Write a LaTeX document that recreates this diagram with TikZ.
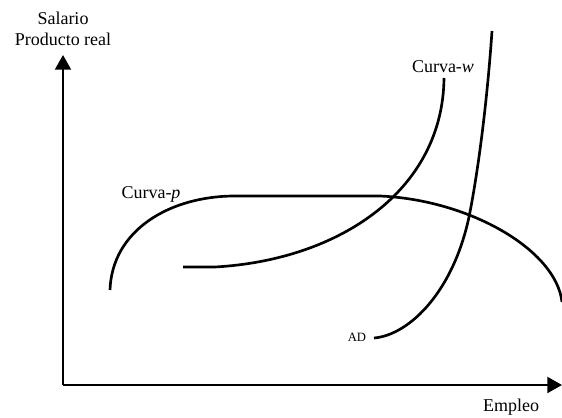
\documentclass[tikz,border=0pt]{standalone}
\usepackage{fontspec}
\setmainfont{Liberation Serif}
\usetikzlibrary{arrows.meta,positioning}

\begin{document}
\begin{tikzpicture}[
    x=0.75pt, y=-0.75pt,
    axis/.style={line width=1.5pt,-{Triangle[length=11pt,width=12pt]}},
    curve/.style={line width=2pt},
    label/.style={font=\fontsize{13.5}{15}\selectfont, align=center, inner sep=0pt}
]
\useasboundingbox (0,0) rectangle (562,418);

\coordinate (origin) at (63,385);
\coordinate (ytop) at (63,55);
\coordinate (xend) at (562,385);

\draw [axis] (origin) -- (ytop);
\draw [axis] (origin) -- (xend);

\node [label] (ylab) at (63,29) {Salario\\[1pt]Producto real};
\node [label] (xlab) at (511,407) {Empleo};

\draw [curve] (110,290) .. controls (112,230) and (170,196) .. (235,196)
    -- (380,196) .. controls (470,200) and (556,250) .. (562,302);
\draw [curve] (183,267) -- (215,267) .. controls (340,260) and (443,190) .. (444,78);
\draw [curve] (374,338) .. controls (410,335) and (455,290) .. (470,212)
    .. controls (480,160) and (488,90) .. (492,31);

\node [label] (plab) at (151,194) {Curva-\textit{p}};
\node [label] (wlab) at (443,67) {Curva-\textit{w}};
\node [label, font=\fontsize{9.5}{11}\selectfont] (adlab) at (357,337) {AD};
\end{tikzpicture}
\end{document}
